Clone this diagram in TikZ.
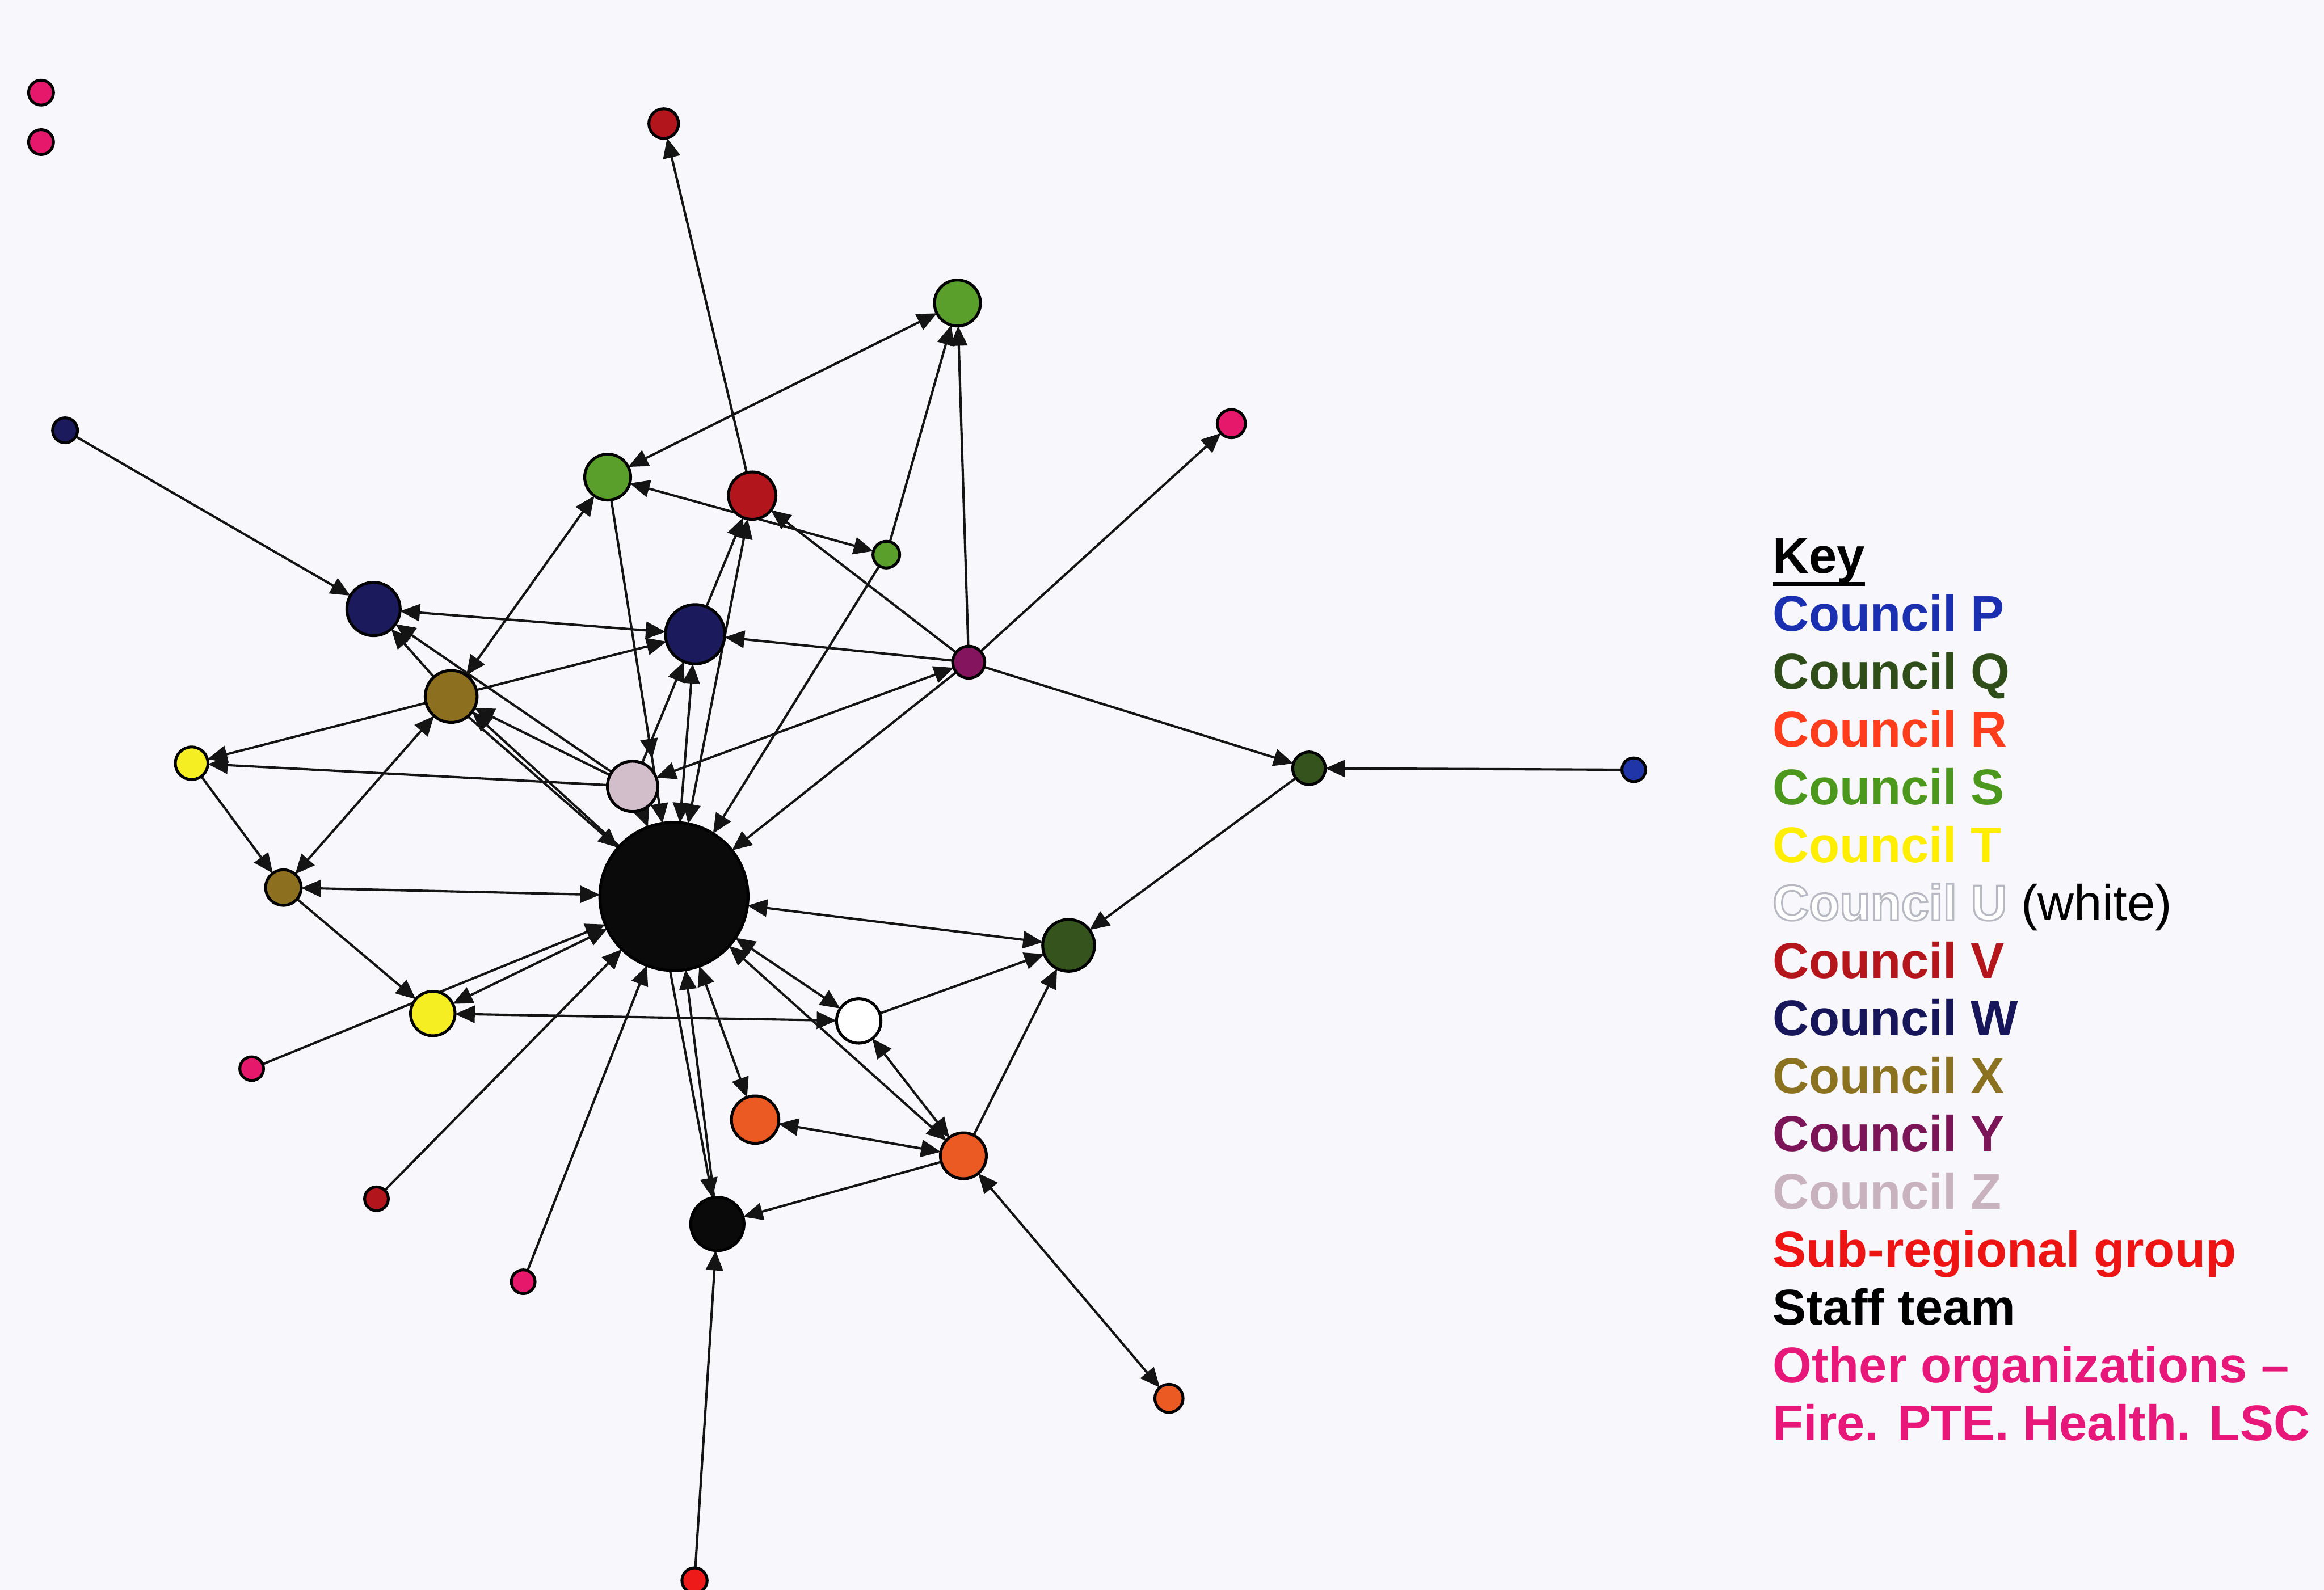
\documentclass[tikz,border=0pt]{standalone}
\usepackage{fontspec}
\setmainfont{Liberation Sans}
\usetikzlibrary{arrows.meta,decorations.markings}

% organisation colours
\definecolor{bgcol}{HTML}{F7F7FC}
\definecolor{cP}{HTML}{1F35A8}
\definecolor{cQ}{HTML}{35531C}
\definecolor{cR}{HTML}{EC5A24}
\definecolor{cS}{HTML}{5A9E2C}
\definecolor{cT}{HTML}{F4EE22}
\definecolor{cV}{HTML}{B3151C}
\definecolor{cW}{HTML}{1B1A5C}
\definecolor{cX}{HTML}{8C7020}
\definecolor{cY}{HTML}{84145E}
\definecolor{cZ}{HTML}{D2BECA}
\definecolor{cSub}{HTML}{EE1A1A}
\definecolor{cStaff}{HTML}{0A0A0A}
\definecolor{cOther}{HTML}{E6186C}
% legend text colours
\definecolor{kP}{HTML}{1B30B0}
\definecolor{kQ}{HTML}{2F4D18}
\definecolor{kR}{HTML}{FF3C1C}
\definecolor{kS}{HTML}{4C981C}
\definecolor{kT}{HTML}{FFEE00}
\definecolor{kV}{HTML}{B4161C}
\definecolor{kW}{HTML}{17165A}
\definecolor{kX}{HTML}{8A7220}
\definecolor{kY}{HTML}{7C1458}
\definecolor{kZ}{HTML}{C8B2BE}
\definecolor{kSub}{HTML}{EE1414}
\definecolor{kOther}{HTML}{E8187A}

\pgfdeclarelayer{bg}
\pgfdeclarelayer{edges}
\pgfsetlayers{bg,edges,main}

% white letters with a thin grey outline
\newcommand\outlinedtext[1]{\special{pdf:literal direct 0.72 0.72 0.76 RG 0.35 w 2 Tr}#1\special{pdf:literal direct 0 Tr 0 0 0 RG}}

\begin{document}
\begin{tikzpicture}[x=0.1mm,y=-0.1mm,
  nd/.style 2 args={circle, draw=black, line width=0.55pt, fill=#1,
    minimum size=#2*0.2mm, inner sep=0pt, outer sep=0pt},
  edge/.style={draw=black!92, line width=0.45pt},
  arr/.style={edge, -{Triangle[length=3.8pt,width=3.3pt]}},
  both/.style={edge, {Triangle[length=3.8pt,width=3.3pt]}-{Triangle[length=3.8pt,width=3.3pt]}},
  midarr/.style={postaction={decorate}, decoration={markings,
    mark=at position #1 with {\arrow{Triangle[length=3.8pt,width=3.3pt]}}}},
  lg/.style={anchor=base west, inner sep=0pt, outer sep=0pt,
    font=\fontsize{9.65}{11}\selectfont\bfseries}]

\begin{pgfonlayer}{bg}
  \fill[bgcol] (0,0) rectangle (1568,1073);
\end{pgfonlayer}
\useasboundingbox (0,0) rectangle (1568,1073);

% ---- people ----
\node[nd={cOther}{8.4}] (oA) at (27.7,62.5) {};
\node[nd={cOther}{8.4}] (oB) at (27.7,95.9) {};
\node[nd={cV}{10}] (vTop) at (447.8,83.4) {};
\node[nd={cS}{15.5}] (sTop) at (646,204.5) {};
\node[nd={cW}{8.4}] (wSmall) at (43.9,290.4) {};
\node[nd={cS}{15.5}] (sLeft) at (410,322) {};
\node[nd={cV}{16}] (vMid) at (507.5,334.5) {};
\node[nd={cS}{9}] (sSmall) at (598,374.3) {};
\node[nd={cOther}{9.5}] (oRight) at (830.8,285.9) {};
\node[nd={cW}{18}] (wLeft) at (252,411) {};
\node[nd={cW}{20}] (wMid) at (469,428) {};
\node[nd={cY}{10.8}] (yPur) at (653.6,446.9) {};
\node[nd={cX}{17.5}] (xLeft) at (304.4,470) {};
\node[nd={cT}{11}] (tLeft) at (129.3,515.1) {};
\node[nd={cZ}{17}] (zMauve) at (426.8,530.7) {};
\node[nd={cQ}{11}] (qRight) at (883.2,518.5) {};
\node[nd={cP}{8}] (pBlue) at (1102.3,519.5) {};
\node[nd={cStaff}{50}] (hub) at (454.7,605) {};
\node[nd={cX}{12}] (xSmall) at (191.2,599) {};
\node[nd={cQ}{17.5}] (qMid) at (721,638) {};
\node[nd={cOther}{8}] (oLeft) at (169.8,721.2) {};
\node[nd={cT}{15}] (tMid) at (292,684) {};
\node[nd={white}{15}] (uWhite) at (579.4,689) {};
\node[nd={cR}{16}] (rA) at (509.5,755.6) {};
\node[nd={cR}{15.5}] (rB) at (650,780) {};
\node[nd={cV}{8}] (vSmall) at (254,809) {};
\node[nd={cOther}{8}] (oLow) at (353,865) {};
\node[nd={cStaff}{18}] (staffSm) at (484,826) {};
\node[nd={cR}{9.5}] (rC) at (788.7,943.7) {};
\node[nd={cSub}{8.5}] (subBot) at (468.6,1066.6) {};

% ---- who knows whose skills ----
\begin{pgfonlayer}{edges}
\draw[arr] (wSmall) -- (wLeft);
\draw[arr] (vMid) -- (vTop);
\draw[both] (sLeft) -- (sTop);
\draw[arr] (sSmall) -- (sTop);
\draw[arr] (yPur) -- (sTop);
\draw[both] (sLeft) -- (sSmall);
\draw[arr] (yPur) -- (vMid);
\draw[arr] (wMid) -- (vMid);
\draw[both] (hub) -- (vMid);
\draw[both] (xLeft) -- (sLeft);
\draw[arr, midarr=0.8] (sLeft) -- (hub);
\draw[both] (wLeft) -- (wMid);
\draw[arr] (xLeft) -- (wMid);
\draw[arr] (yPur) -- (wMid);
\draw[arr] (zMauve) -- (wMid);
\draw[both] (hub) -- (wMid);
\draw[arr] (xLeft) -- (wLeft);
\draw[arr] (zMauve) -- (wLeft);
\draw[arr] (zMauve) -- (xLeft);
\draw[arr] (hub) -- (xLeft.-36);
\draw[arr] (xLeft.-50) -- (hub);
\draw[arr] (yPur) -- (oRight);
\draw[arr] (yPur) -- (qRight);
\draw[arr] (pBlue) -- (qRight);
\draw[arr] (qRight) -- (qMid);
\draw[arr] (yPur) -- (hub);
\draw[both] (zMauve) -- (yPur);
\draw[arr] (sSmall) -- (hub);
\draw[arr] (zMauve) -- (hub);
\draw[arr] (xLeft) -- (tLeft);
\draw[arr] (zMauve) -- (tLeft);
\draw[arr] (tLeft) -- (xSmall);
\draw[both] (xSmall) -- (xLeft);
\draw[both] (xSmall) -- (hub);
\draw[arr] (xSmall) -- (tMid);
\draw[arr] (oLeft) -- (hub);
\draw[both] (hub) -- (tMid);
\draw[both] (tMid) -- (uWhite);
\draw[both] (hub) -- (uWhite);
\draw[both] (hub) -- (rB);
\draw[both] (uWhite) -- (rB);
\draw[arr] (uWhite) -- (qMid);
\draw[both] (hub) -- (qMid);
\draw[arr] (rB) -- (qMid);
\draw[both] (hub) -- (rA);
\draw[both] (rA) -- (rB);
\draw[arr] (rB) -- (staffSm);
\draw[both] (rB) -- (rC);
\draw[arr] (hub.-93) -- (staffSm);
\draw[arr] (staffSm) -- (hub.-81);
\draw[arr] (subBot) -- (staffSm);
\draw[arr] (vSmall) -- (hub);
\draw[arr] (oLow) -- (hub);
\end{pgfonlayer}

% ---- key ----
\node[lg, text=black] (kKey) at (1196,387) {Key};
\draw[line width=0.75pt] ([yshift=-2pt]kKey.base west) -- ([yshift=-2pt]kKey.base east);
\node[lg, text=kP] (kP) at (1196,426) {Council P};
\node[lg, text=kQ] (kQ) at (1196,465) {Council Q};
\node[lg, text=kR] (kR) at (1196,504) {Council R};
\node[lg, text=kS] (kS) at (1196,543) {Council S};
\node[lg, text=kT] (kT) at (1196,582) {Council T};
\node[lg, text=kV] (kV) at (1196,660) {Council V};
\node[lg, text=kW] (kW) at (1196,699) {Council W};
\node[lg, text=kX] (kX) at (1196,738) {Council X};
\node[lg, text=kY] (kY) at (1196,777) {Council Y};
\node[lg, text=kZ] (kZ) at (1196,816) {Council Z};
\node[lg, text=kSub] (kSub) at (1196,855) {Sub-regional group};
\node[lg, text=black] (kStaff) at (1196,894) {Staff team};
\node[lg, text=kOther] (kOther1) at (1196,933) {Other organizations –};
\node[lg, text=kOther] (kOther2) at (1196,972) {Fire. PTE. Health. LSC};
\node[lg, text=white] (kU) at (1196,621) {\outlinedtext{Council U}\ {\color{black}\mdseries(white)}};
\end{tikzpicture}
\end{document}
